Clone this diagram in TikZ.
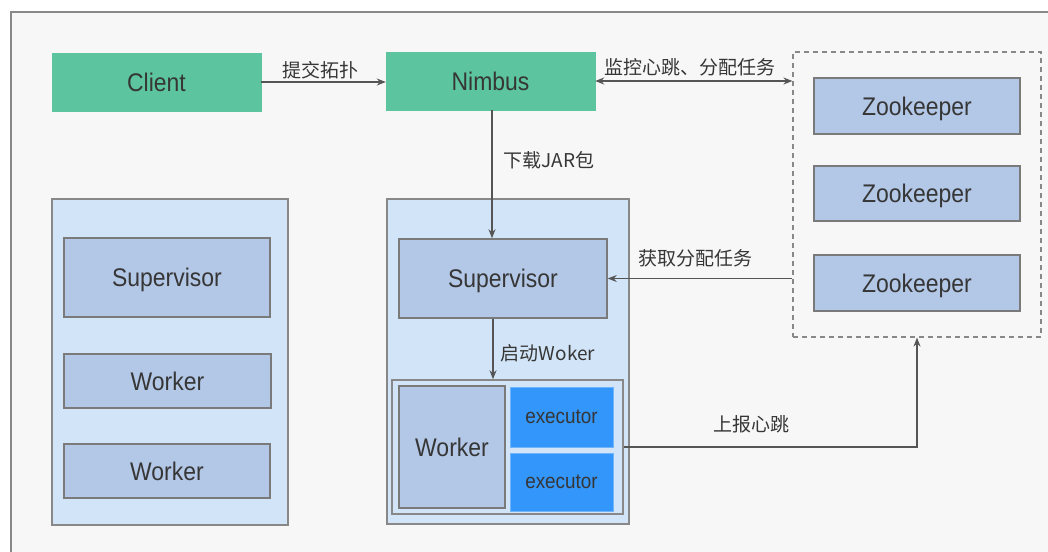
\documentclass[tikz,border=0pt]{standalone}
\usepackage{fontspec}
\setmainfont{Liberation Sans}[FakeStretch=0.9]
\newfontfamily\cjk{Noto Sans CJK SC}
\usetikzlibrary{arrows.meta,calc}
\definecolor{bgc}{HTML}{F7F7F7}
\definecolor{framec}{HTML}{888888}
\definecolor{greenc}{HTML}{5CC49F}
\definecolor{contc}{HTML}{D2E5F8}
\definecolor{boxc}{HTML}{B3C7E6}
\definecolor{edgec}{HTML}{7A7A7A}
\definecolor{execc}{HTML}{3396FA}
\definecolor{textc}{HTML}{363636}
\definecolor{arrc}{HTML}{555555}
\tikzset{
  capcenter/.style={text height=18.3pt, text depth=0pt},
  green box/.style={draw=greenc, fill=greenc, inner sep=0pt, text=textc, font=\fontsize{25.5}{25.5}\selectfont, capcenter},
  container/.style={draw=framec, fill=contc, line width=1.2pt, inner sep=0pt},
  blue box/.style={draw=edgec, fill=boxc, line width=1.5pt, inner sep=0pt, text=textc, font=\fontsize{25.5}{25.5}\selectfont, capcenter},
  exec box/.style={draw=execc!70!white, fill=execc, line width=1pt, inner sep=0pt, text=textc, font=\fontsize{21}{21}\selectfont, text height=12pt, text depth=0pt},
  dash box/.style={draw=framec, dashed, dash pattern=on 5pt off 4pt, line width=1.2pt, inner sep=0pt},
  arr/.style={draw=arrc, line width=1.4pt, -{Stealth[length=9pt,width=7pt]}},
  lbl/.style={text=textc, font=\cjk\fontsize{19}{19}\selectfont, inner sep=0pt},
}
\begin{document}
\begin{tikzpicture}[x=1pt,y=-1pt]
\useasboundingbox (0,0) rectangle (1048,551);
\clip (0,0) rectangle (1048,551);
\fill[white] (0,0) rectangle (1048,551);
\draw[framec, fill=bgc, line width=1.2pt] (11,12) rectangle (1070,570);

% top row
\node[green box, minimum width=209pt, minimum height=58pt] (client) at (156.5,82) {Client};
\node[green box, minimum width=209pt, minimum height=58pt] (nimbus) at (490.5,81) {Nimbus};

% zookeeper group
\node[dash box, minimum width=248pt, minimum height=285pt] (dash) at (917,194.5) {};
\node[blue box, minimum width=206pt, minimum height=56pt] (zk1) at (917,106) {Zookeeper};
\node[blue box, minimum width=206pt, minimum height=55pt] (zk2) at (917,193.5) {Zookeeper};
\node[blue box, minimum width=206pt, minimum height=56pt] (zk3) at (917,283) {Zookeeper};

% left container
\node[container, minimum width=236pt, minimum height=326pt] (contL) at (170,362) {};
\node[blue box, minimum width=206pt, minimum height=79pt] (supL) at (167,277.5) {Supervisor};
\node[blue box, minimum width=207pt, minimum height=54pt] (wL1) at (167.5,381) {Worker};
\node[blue box, minimum width=206pt, minimum height=54pt] (wL2) at (167,471) {Worker};

% middle container
\node[container, minimum width=242pt, minimum height=325pt] (contM) at (508,361.5) {};
\node[blue box, minimum width=208pt, minimum height=79pt] (supM) at (503,278.5) {Supervisor};
\node[container, line width=1.5pt, minimum width=231pt, minimum height=134pt] (wg) at (507.5,447) {};
\node[blue box, minimum width=106pt, minimum height=122pt] (wM) at (452,447) {Worker};
\node[exec box, minimum width=103pt, minimum height=60pt] (ex1) at (561.5,417) {executor};
\node[exec box, minimum width=103pt, minimum height=58pt] (ex2) at (561.5,482) {executor};

% connectors
\draw[arr] (client.east) -- (client.east -| nimbus.west);
\node[lbl] (l1) at (320,70) {提交拓扑};

\draw[arr, {Stealth[length=9pt,width=7pt]}-{Stealth[length=9pt,width=7pt]}] (nimbus.east) -- (nimbus.east -| dash.west);
\node[lbl] (l2) at (690,67) {监控心跳、分配任务};

\draw[arr] ([xshift=1.5pt]nimbus.south) -- ([xshift=1.5pt]nimbus.south |- supM.north);
\node[lbl] (l3) at (549,160) {下载JAR包};

\draw[arr] (dash.west |- supM.east) -- (supM.east);
\node[lbl] (l4) at (695,258) {获取分配任务};

\draw[arr] ([xshift=-10pt]supM.south) -- ([xshift=-10pt]supM.south |- wg.north);
\node[lbl] (l5) at (548,353) {启动Woker};

\draw[arr] (wg.east) -| (dash.south);
\node[lbl] (l6) at (751,424) {上报心跳};
\end{tikzpicture}
\end{document}
